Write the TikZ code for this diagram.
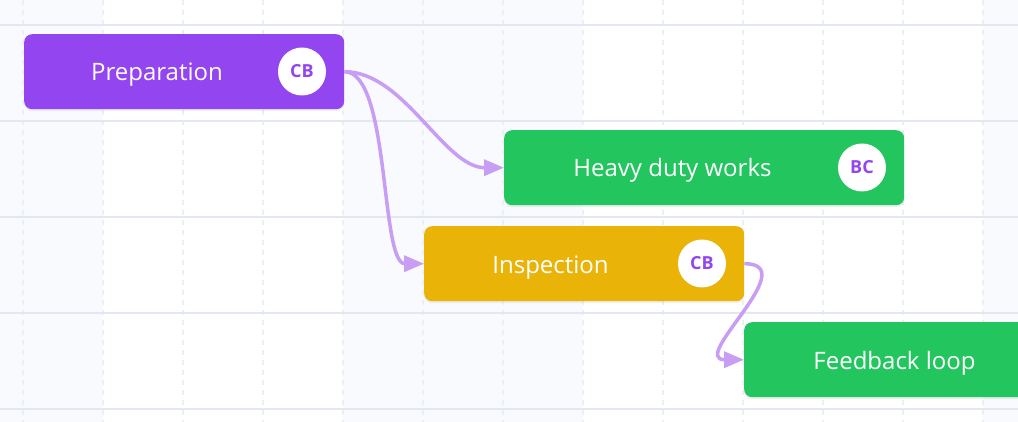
\documentclass[tikz,border=0pt]{standalone}
\usepackage{fontspec}
\setmainfont{Open Sans}
\usetikzlibrary{arrows.meta,shadows}

\definecolor{prepcol}{HTML}{9345EF}
\definecolor{workcol}{HTML}{22C55E}
\definecolor{inspcol}{HTML}{EAB308}
\definecolor{linkcol}{HTML}{C89DF4}
\definecolor{bandcol}{HTML}{F9FAFD}
\definecolor{rowline}{HTML}{E3E7EF}
\definecolor{colline}{HTML}{ECEFF4}

\tikzset{
  bar/.style={rectangle, rounded corners=8pt, anchor=north west, minimum height=75pt, inner sep=0pt,
    drop shadow={opacity=0.12, shadow xshift=0pt, shadow yshift=-2pt}},
  bartext/.style={anchor=base, text=white, font=\fontsize{24}{28}\selectfont},
  avatar/.style={circle, fill=white, minimum size=48pt, inner sep=0pt, text=prepcol,
    font=\bfseries\fontsize{18}{21}\selectfont,
    drop shadow={opacity=0.08, shadow xshift=0pt, shadow yshift=-1pt}},
  link/.style={draw=linkcol, line width=3.5pt, -{Triangle[length=20pt,width=16pt]}}
}

\begin{document}
\begin{tikzpicture}[x=1pt,y=-1pt]
\useasboundingbox (0,0) rectangle (1018,422);
\clip (0,0) rectangle (1018,422);
% grid background
\fill[white] (0,0) rectangle (1018,422);
\fill[bandcol] (0,0) rectangle (103,422);
\fill[bandcol] (343,0) rectangle (583,422);
\fill[bandcol] (983,0) rectangle (1018,422);
\foreach \x in {23,103,...,983}
  \draw[colline, line width=2pt, dash pattern=on 5pt off 5pt] (\x,0) -- (\x,422);
\foreach \y in {25,121,...,409}
  \draw[rowline, line width=2pt] (0,\y) -- (1018,\y);

% tasks
\node[bar, fill=prepcol, minimum width=320pt] (prep) at (24,34) {};
\node[bartext] (preptxt) at (157,81) {Preparation};
\node[avatar] (prepav) at (302,71.5) {CB};

\node[bar, fill=workcol, minimum width=400pt] (work) at (504,130) {};
\node[bartext] (worktxt) at (672.5,177) {Heavy duty works};
\node[avatar] (workav) at (862,167.5) {BC};

\node[bar, fill=inspcol, minimum width=320pt] (insp) at (424,226) {};
\node[bartext] (insptxt) at (550.5,273) {Inspection};
\node[avatar] (inspav) at (702,263.5) {CB};

\node[bar, fill=workcol, minimum width=340pt] (feed) at (744,322) {};
\node[bartext] (feedtxt) at (894.5,369) {Feedback loop};

% dependencies
\draw[link] (prep.east) .. controls +(60,0) and +(-60,0) .. (work.west);
\draw[link] (prep.east) .. controls +(46,0) and +(-44,0) .. (insp.west);
\draw[link] (insp.east) .. controls +(60,0) and +(-56,0) .. (feed.west);
\end{tikzpicture}
\end{document}
